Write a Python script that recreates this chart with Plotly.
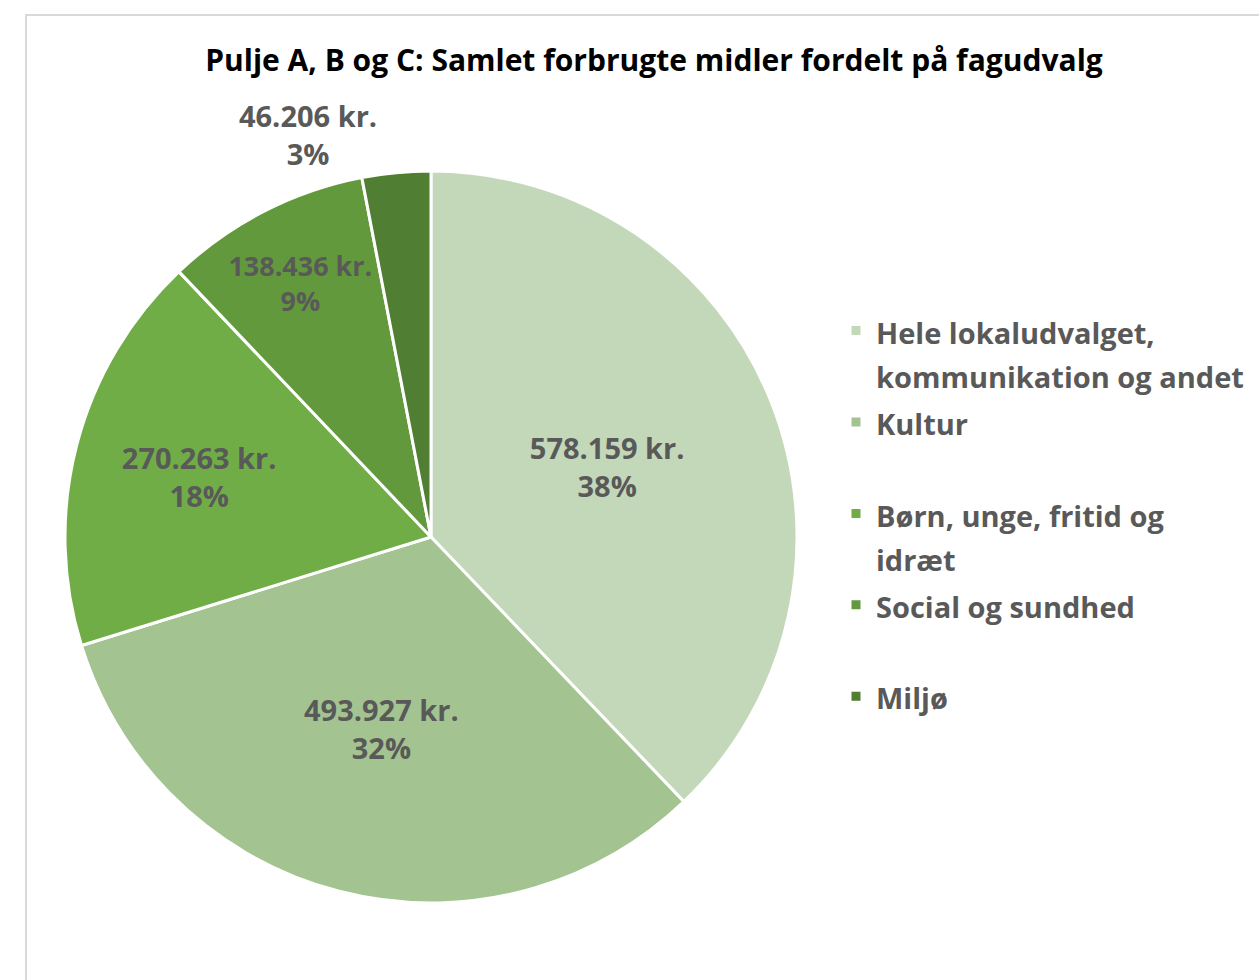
import plotly.graph_objects as go

categories = [
    "Hele lokaludvalget,<br>kommunikation og andet",
    "Kultur",
    "Børn, unge, fritid og<br>idræt",
    "Social og sundhed",
    "Miljø",
]
legend_lines = [2, 1, 2, 1, 1]
values = [578159, 493927, 270263, 138436, 46206]
colors = ["#C3D8B9", "#A3C490", "#70AD47", "#63993D", "#507E32"]
text_positions = ["inside", "inside", "inside", "inside", "outside"]

W, H = 1259, 980
cx, cy, R = 431, 537, 366
FONT = "Open Sans"
TXT = "#595959"

legend_labels = []
for c, n in zip(categories, legend_lines):
    parts = c.split("<br>")
    if n == 1:
        parts.append(" ")
    legend_labels.append(
        "<br>".join(f"<span style='font-size:29px'><b>{p}</b></span>" for p in parts)
    )

fig = go.Figure(
    go.Pie(
        labels=legend_labels,
        values=values,
        sort=False,
        direction="clockwise",
        rotation=0,
        marker=dict(colors=colors, line=dict(color="white", width=3)),
        texttemplate="<b>%{value:,} kr.</b><br><b>%{percent:.0%}</b>",
        textposition=text_positions,
        insidetextorientation="horizontal",
        textfont=dict(family=FONT, size=29, color=TXT),
        outsidetextfont=dict(family=FONT, size=29, color=TXT),
        insidetextfont=dict(family=FONT, size=29, color=TXT),
        hovertemplate="%{value:,} kr.<br>%{percent:.0%}<extra></extra>",
        domain=dict(
            x=[(cx - R) / W, (cx + R) / W],
            y=[1 - (cy + R) / H, 1 - (cy - R) / H],
        ),
    )
)

fig.update_layout(
    width=W,
    height=H,
    margin=dict(l=0, r=0, t=0, b=0),
    paper_bgcolor="white",
    plot_bgcolor="white",
    separators=",.",
    title=dict(
        text="<b>Pulje A, B og C: Samlet forbrugte midler fordelt på fagudvalg</b>",
        x=654 / W,
        xanchor="center",
        y=1 - 60 / H,
        yanchor="middle",
        font=dict(family=FONT, size=30, color="#000000"),
    ),
    legend=dict(
        x=836 / W,
        xanchor="left",
        y=1 - 302 / H,
        yanchor="top",
        valign="top",
        font=dict(family=FONT, size=34, color=TXT),
        tracegroupgap=0,
    ),
    shapes=[
        dict(
            type="rect",
            xref="paper",
            yref="paper",
            x0=26 / W,
            x1=1.02,
            y0=-0.02,
            y1=1 - 15 / H,
            line=dict(color="#D9D9D9", width=2),
            fillcolor="rgba(0,0,0,0)",
            layer="below",
        )
    ],
)

fig.write_html(
    "out.html",
    config={"displayModeBar": False},
    post_script="document.body.style.margin='0';",
)
